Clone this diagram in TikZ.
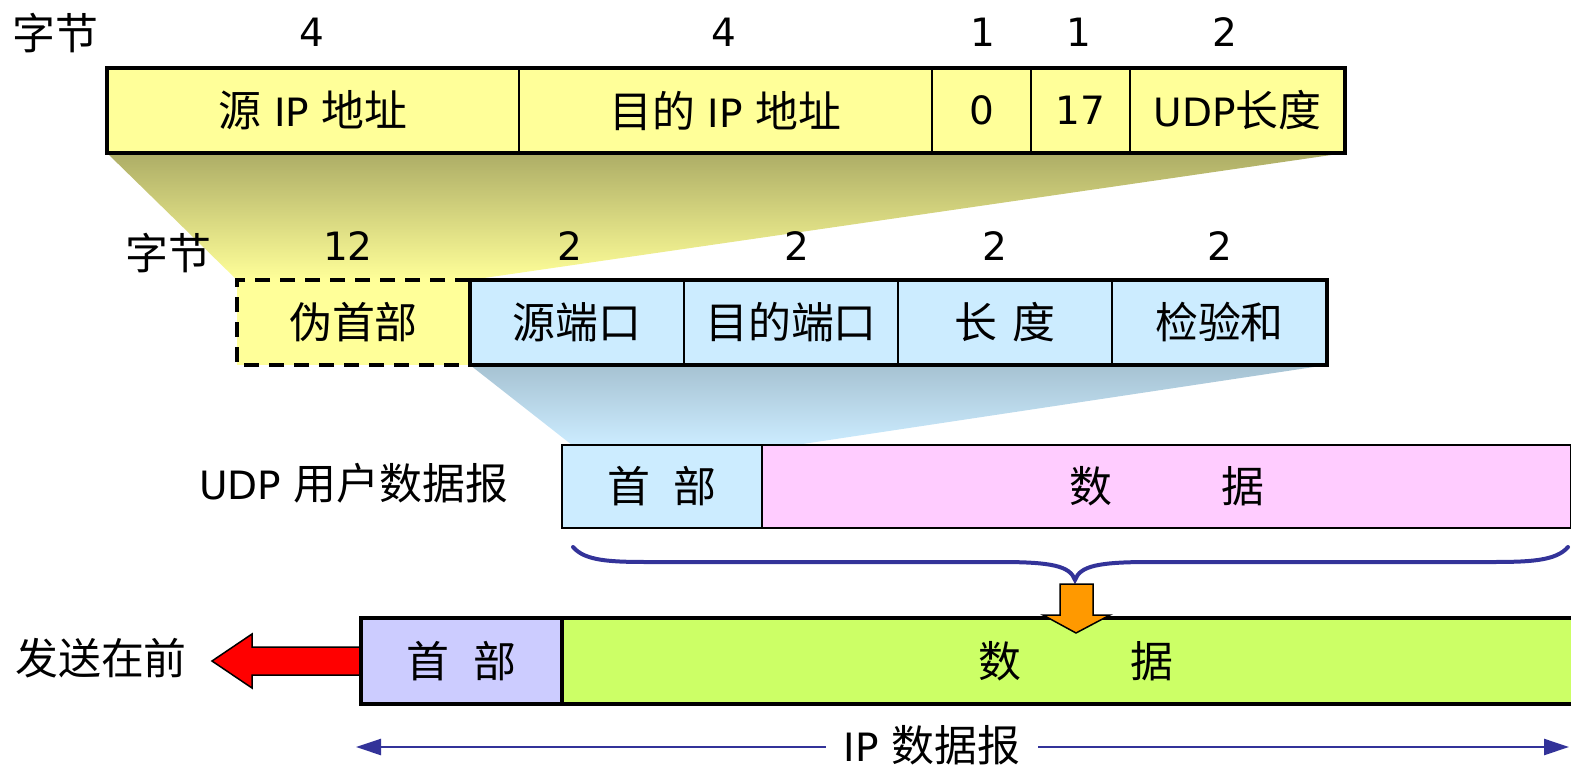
\documentclass[tikz,border=0pt]{standalone}
\usepackage{fontspec}
\setmainfont{DejaVu Sans}
\newfontfamily\cjk[Scale=1.1]{Noto Sans CJK SC}
\usetikzlibrary{arrows.meta}
\newcommand\zh[1]{{\cjk #1}}
\definecolor{cyel}{HTML}{FFFF99}
\definecolor{cblu}{HTML}{CCECFF}
\definecolor{cpink}{HTML}{FFCCFF}
\definecolor{clav}{HTML}{CCCCFF}
\definecolor{cgrn}{HTML}{CCFF66}
\definecolor{cnavy}{HTML}{333399}
\definecolor{corange}{HTML}{FF9900}
\definecolor{colive}{HTML}{ADAD66}
\definecolor{csteel}{HTML}{A6C2D2}
\begin{document}
\begin{tikzpicture}[x=1pt,y=-1pt,
  font=\fontsize{39}{46}\selectfont,
  cell/.style={draw, line width=1.5pt, inner sep=0pt, outer sep=0pt, anchor=north west, minimum height=85pt},
  lbl/.style={inner sep=0pt, outer sep=0pt},
  frame/.style={draw, line width=4pt},
  bracestyle/.style={draw=cnavy, line width=4pt, line cap=round},
  dimline/.style={draw=cnavy, line width=2.5pt, -{Triangle[length=25pt,width=16pt]}},
  fatarrow/.style={draw=black, line width=1.5pt, line join=miter}
]
\useasboundingbox (0,0) rectangle (1571,772);

% ---------- top row: IP pseudo header fields ----------
\node[cell, fill=cyel, minimum width=412pt] (sip) at (107,68) {\zh{源} IP \zh{地址}};
\node[cell, fill=cyel, minimum width=413pt] (dip) at (519,68) {\zh{目的} IP \zh{地址}};
\node[cell, fill=cyel, minimum width=99pt] (zero) at (932,68) {0};
\node[cell, fill=cyel, minimum width=99pt] (proto) at (1031,68) {17};
\node[cell, fill=cyel, minimum width=215pt] (ulen) at (1130,68) {UDP\zh{长度}};

% ---------- gradient funnels ----------
\coordinate (f1) at (237,280);
\coordinate (f2) at (470,280);
\shade[top color=colive, bottom color=cyel] (sip.south west) -- (ulen.south east) -- (f2) -- (f1) -- cycle;
\coordinate (g1) at (572,445);
\coordinate (g2) at (796,445);
\coordinate (g3) at (470,365);
\coordinate (g4) at (1327,365);
\shade[top color=csteel, bottom color=cblu] (g3) -- (g4) -- (g2) -- (g1) -- cycle;

\draw[frame] (sip.north west) rectangle (ulen.south east);

% byte counts, top
\node[lbl] (bytes1) at (55,33) {\zh{字节}};
\node[lbl] (n1) at (312,32) {4};
\node[lbl] (n2) at (724,32) {4};
\node[lbl] (n3) at (983,32) {1};
\node[lbl] (n4) at (1079,32) {1};
\node[lbl] (n5) at (1225,32) {2};

% ---------- second row: UDP header ----------
\node[cell, fill=cyel, draw=none, minimum width=233pt] (pseudo) at (237,280) {\zh{伪首部}};
\draw[line width=3.5pt, dash pattern=on 15pt off 10pt] (pseudo.north east) -- (pseudo.north west) -- (pseudo.south west) -- (pseudo.south east);
\node[cell, fill=cblu, minimum width=214pt] (sport) at (470,280) {\zh{源端口}};
\node[cell, fill=cblu, minimum width=214pt] (dport) at (684,280) {\zh{目的端口}};
\node[cell, fill=cblu, minimum width=214pt] (len) at (898,280) {\zh{长}\hspace{0.4em}\zh{度}};
\node[cell, fill=cblu, minimum width=215pt] (csum) at (1112,280) {\zh{检验和}};
\draw[line width=3.5pt] (sport.north west) rectangle (csum.south east);

% byte counts, second
\node[lbl] (bytes2) at (168,253) {\zh{字节}};
\node[lbl] (m1) at (348,246) {12};
\node[lbl] (m2) at (570,246) {2};
\node[lbl] (m3) at (797,246) {2};
\node[lbl] (m4) at (995,246) {2};
\node[lbl] (m5) at (1220,246) {2};

% ---------- UDP datagram ----------
\node[cell, fill=cblu, line width=2pt, minimum width=200pt, minimum height=83pt] (uhdr) at (562,445) {\zh{首}\hspace{0.6em}\zh{部}};
\node[cell, fill=cpink, line width=2pt, minimum width=809pt, minimum height=83pt] (udata) at (762,445) {\zh{数}\hspace{2.8em}\zh{据}};
\node[lbl, anchor=east] (ulabel) at (508,483) {UDP \zh{用户数据报}};

% brace
\coordinate (bl) at (573,547);
\coordinate (bm) at (1075,580);
\coordinate (br) at (1568,547);
\draw[bracestyle] (bl) .. controls (585,561) and (610,562) .. (650,562) -- (1000,562) .. controls (1052,562) and (1070,566) .. (bm) .. controls (1080,566) and (1098,562) .. (1150,562) -- (1490,562) .. controls (1530,562) and (1556,561) .. (br);

% ---------- red arrow ----------
\coordinate (rtip) at (212,661);
\draw[fatarrow, fill=red] (361,647) -- (252,647) -- (252,634) -- (rtip) -- (252,688) -- (252,675) -- (361,675) -- cycle;
\node[lbl] (sendfirst) at (101,658) {\zh{发送在前}};

% ---------- IP datagram ----------
\node[cell, fill=clav, line width=4pt, minimum width=201pt, minimum height=86pt] (ihdr) at (361,618) {\zh{首}\hspace{0.6em}\zh{部}};
\node[cell, fill=cgrn, line width=4pt, minimum width=1020pt, minimum height=86pt] (idata) at (562,618) {};
\node[lbl] (idatatext) at (1076,661) {\zh{数}\hspace{2.8em}\zh{据}};

% orange arrow
\coordinate (otip) at (1076,633);
\draw[fatarrow, fill=corange] (1060,584) -- (1093,584) -- (1093,615) -- (1110,615) -- (otip) -- (1043,615) -- (1060,615) -- cycle;

% ---------- IP datagram span ----------
\node[lbl, inner xsep=18pt, fill=white] (iplab) at (932,745) {IP \zh{数据报}};
\coordinate (lend) at (356,747);
\coordinate (rend) at (1569,747);
\draw[dimline] (iplab.west |- lend) -- (lend);
\draw[dimline] (iplab.east |- rend) -- (rend);
\end{tikzpicture}
\end{document}
